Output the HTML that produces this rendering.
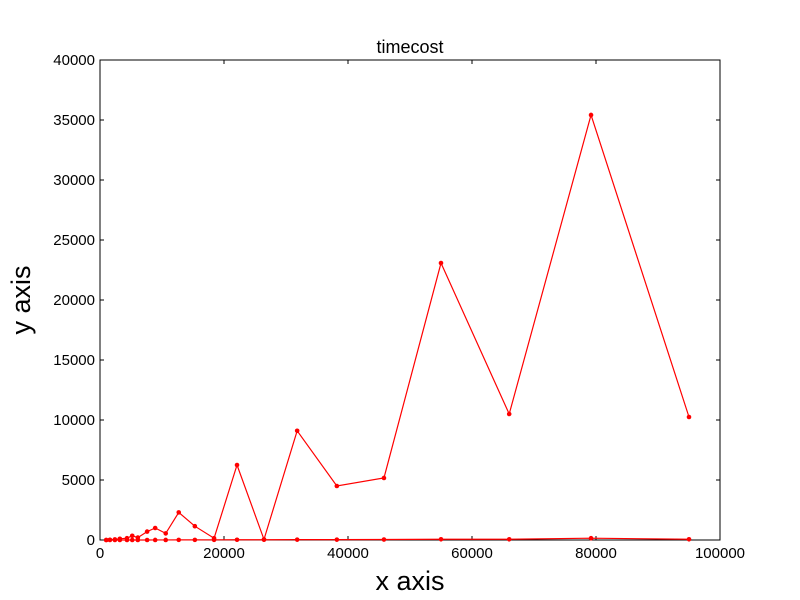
<!DOCTYPE html>
<html><head><meta charset="utf-8"><style>body{margin:0;background:#fff}svg{display:block;font-family:"Liberation Sans",sans-serif}</style></head>
<body>
<svg id="c" width="800" height="600"></svg>
<script>
const xs=[1000,1600,2400,3200,4350,5200,6100,7600,8900,10600,12700,15300,18400,22100,26450,31800,38200,45800,55000,66000,79200,95000];
const seriesTop=[0,20,50,100,150,350,200,700,1000,550,2300,1150,150,6250,50,9100,4500,5170,23080,10500,35420,10250];
const seriesBottom=[0,0,0,0,0,0,0,0,5,5,10,10,15,20,20,30,30,40,60,60,150,60];
const xTicks=[0,20000,40000,60000,80000,100000];
const yTicks=[0,5000,10000,15000,20000,25000,30000,35000,40000];
const L=100,R=720,T=60,B=540;
const X=v=>L+(v/100000)*(R-L);
const Y=v=>B-(v/40000)*(B-T);
const NS="http://www.w3.org/2000/svg";
const svg=document.getElementById('c');
function mk(t,a,p){const e=document.createElementNS(NS,t);for(const k in a)e.setAttribute(k,a[k]);(p||svg).appendChild(e);return e;}
const frame=mk('rect',{x:L,y:T,width:R-L,height:B-T,fill:'none',stroke:'#000','stroke-width':1});


xTicks.forEach(v=>{
  const x=X(v);
  const t1=mk('line',{x1:x,x2:x,y1:B,y2:B-4,stroke:'#000'});
  
  
  const t2=mk('line',{x1:x,x2:x,y1:T,y2:T+4,stroke:'#000'});
  
  
  const tx=mk('text',{x:x,y:B+18,'text-anchor':'middle','font-size':15});
  tx.textContent=v;
  
  
});
yTicks.forEach(v=>{
  const y=Y(v);
  const t1=mk('line',{x1:L,x2:L+4,y1:y,y2:y,stroke:'#000'});
  
  
  const t2=mk('line',{x1:R,x2:R-4,y1:y,y2:y,stroke:'#000'});
  
  
  const tx=mk('text',{x:L-5,y:y+5,'text-anchor':'end','font-size':15});
  tx.textContent=v;
  
  
});
[[seriesBottom,'series-bottom'],[seriesTop,'series-top']].forEach(([s,n])=>{
  const pl=mk('polyline',{points:xs.map((x,i)=>X(x)+','+Y(s[i])).join(' '),fill:'none',stroke:'#f00','stroke-width':1.2});
  
  
  xs.forEach((x,i)=>{
    const c=mk('circle',{cx:X(x),cy:Y(s[i]),r:2.3,fill:'#f00'});
    
    
  });
});
const title=mk('text',{x:410,y:53,'text-anchor':'middle','font-size':18});
title.textContent='timecost';


const xl=mk('text',{x:410,y:590,'text-anchor':'middle','font-size':27});
xl.textContent='x axis';


const yl=mk('text',{x:0,y:0,'text-anchor':'middle','font-size':27,transform:'translate(30,300) rotate(-90)'});
yl.textContent='y axis';


</script>
</body></html>
